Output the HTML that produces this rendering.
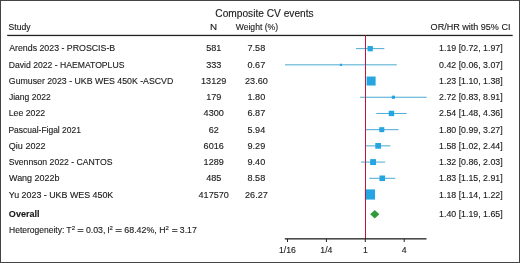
<!DOCTYPE html><html><head><meta charset="utf-8"><style>html,body{margin:0;padding:0;background:#fff;}svg{display:block;will-change:transform;}text{font-family:"Liberation Sans",sans-serif;fill:#1a1a1a;stroke:#1a1a1a;stroke-width:0.12px;}</style></head><body>
<svg width="520" height="263" viewBox="0 0 520 263">
<rect x="0" y="0" width="520" height="263" fill="#fff"/>
<text id="title" x="215.31" y="16.80" font-size="10.2" textLength="98.37" lengthAdjust="spacingAndGlyphs">Composite CV events</text>
<text id="h_study" x="8.58" y="29.60" font-size="8.7" textLength="21.98" lengthAdjust="spacingAndGlyphs">Study</text>
<text id="h_n" x="210.12" y="29.60" font-size="8.7" textLength="7.09" lengthAdjust="spacingAndGlyphs">N</text>
<text id="h_w" x="235.76" y="29.60" font-size="8.7" textLength="42.25" lengthAdjust="spacingAndGlyphs">Weight (%)</text>
<text id="h_ci" x="430.63" y="29.60" font-size="8.7" textLength="79.81" lengthAdjust="spacingAndGlyphs">OR/HR with 95% CI</text>
<rect x="7.2" y="34.8" width="505.5" height="1.3" fill="#222"/>
<rect x="356.08" y="48.12" width="28.24" height="1.0" fill="#4aaad2"/>
<rect x="367.53" y="45.97" width="5.30" height="5.30" fill="#25a5e2"/>
<rect x="285.00" y="64.33" width="111.77" height="1.0" fill="#4aaad2"/>
<rect x="339.86" y="63.73" width="2.20" height="2.20" fill="#25a5e2"/>
<rect x="367.97" y="80.53" width="6.36" height="1.0" fill="#4aaad2"/>
<rect x="366.61" y="76.53" width="9.00" height="9.00" fill="#25a5e2"/>
<rect x="360.07" y="96.74" width="66.60" height="1.0" fill="#4aaad2"/>
<rect x="391.78" y="95.64" width="3.20" height="3.20" fill="#25a5e2"/>
<rect x="376.30" y="112.95" width="30.32" height="1.0" fill="#4aaad2"/>
<rect x="388.76" y="110.75" width="5.40" height="5.40" fill="#25a5e2"/>
<rect x="365.02" y="129.16" width="33.53" height="1.0" fill="#4aaad2"/>
<rect x="379.29" y="127.16" width="5.00" height="5.00" fill="#25a5e2"/>
<rect x="365.86" y="145.36" width="24.47" height="1.0" fill="#4aaad2"/>
<rect x="375.29" y="143.01" width="5.70" height="5.70" fill="#25a5e2"/>
<rect x="361.07" y="161.57" width="24.10" height="1.0" fill="#4aaad2"/>
<rect x="370.14" y="159.12" width="5.90" height="5.90" fill="#25a5e2"/>
<rect x="369.22" y="177.78" width="26.05" height="1.0" fill="#4aaad2"/>
<rect x="379.46" y="175.48" width="5.60" height="5.60" fill="#25a5e2"/>
<rect x="368.98" y="193.98" width="1.90" height="1.0" fill="#4aaad2"/>
<rect x="364.84" y="189.38" width="10.20" height="10.20" fill="#25a5e2"/>
<rect x="365" y="35.5" width="1.0" height="203.5" fill="#bf1537"/>
<text id="name0" x="9.18" y="51.00" font-size="8.7" textLength="106.02" lengthAdjust="spacingAndGlyphs">Arends 2023 - PROSCIS-B</text>
<text id="n0" x="213.70" y="51.00" font-size="8.7" text-anchor="middle" textLength="15.15" lengthAdjust="spacingAndGlyphs">581</text>
<text id="w0" x="256.40" y="51.00" font-size="8.7" text-anchor="middle" textLength="17.68" lengthAdjust="spacingAndGlyphs">7.58</text>
<text id="ci0" x="470.90" y="51.00" font-size="8.7" text-anchor="middle" textLength="63.60" lengthAdjust="spacingAndGlyphs">1.19 [0.72, 1.97]</text>
<text id="name1" x="8.68" y="68.00" font-size="8.7" textLength="115.74" lengthAdjust="spacingAndGlyphs">David 2022 - HAEMATOPLUS</text>
<text id="n1" x="213.70" y="68.00" font-size="8.7" text-anchor="middle" textLength="15.15" lengthAdjust="spacingAndGlyphs">333</text>
<text id="w1" x="256.40" y="68.00" font-size="8.7" text-anchor="middle" textLength="17.68" lengthAdjust="spacingAndGlyphs">0.67</text>
<text id="ci1" x="470.90" y="68.00" font-size="8.7" text-anchor="middle" textLength="63.60" lengthAdjust="spacingAndGlyphs">0.42 [0.06, 3.07]</text>
<text id="name2" x="8.84" y="84.00" font-size="8.7" textLength="164.41" lengthAdjust="spacingAndGlyphs">Gumuser 2023 - UKB WES 450K -ASCVD</text>
<text id="n2" x="213.70" y="84.00" font-size="8.7" text-anchor="middle" textLength="25.26" lengthAdjust="spacingAndGlyphs">13129</text>
<text id="w2" x="256.40" y="84.00" font-size="8.7" text-anchor="middle" textLength="22.73" lengthAdjust="spacingAndGlyphs">23.60</text>
<text id="ci2" x="470.90" y="84.00" font-size="8.7" text-anchor="middle" textLength="63.60" lengthAdjust="spacingAndGlyphs">1.23 [1.10, 1.38]</text>
<text id="name3" x="8.92" y="100.00" font-size="8.7" textLength="41.83" lengthAdjust="spacingAndGlyphs">Jiang 2022</text>
<text id="n3" x="213.70" y="100.00" font-size="8.7" text-anchor="middle" textLength="15.15" lengthAdjust="spacingAndGlyphs">179</text>
<text id="w3" x="256.40" y="100.00" font-size="8.7" text-anchor="middle" textLength="17.68" lengthAdjust="spacingAndGlyphs">1.80</text>
<text id="ci3" x="470.90" y="100.00" font-size="8.7" text-anchor="middle" textLength="63.60" lengthAdjust="spacingAndGlyphs">2.72 [0.83, 8.91]</text>
<text id="name4" x="8.65" y="116.00" font-size="8.7" textLength="36.59" lengthAdjust="spacingAndGlyphs">Lee 2022</text>
<text id="n4" x="213.70" y="116.00" font-size="8.7" text-anchor="middle" textLength="20.20" lengthAdjust="spacingAndGlyphs">4300</text>
<text id="w4" x="256.40" y="116.00" font-size="8.7" text-anchor="middle" textLength="17.68" lengthAdjust="spacingAndGlyphs">6.87</text>
<text id="ci4" x="470.90" y="116.00" font-size="8.7" text-anchor="middle" textLength="63.60" lengthAdjust="spacingAndGlyphs">2.54 [1.48, 4.36]</text>
<text id="name5" x="8.45" y="133.00" font-size="8.7" textLength="72.51" lengthAdjust="spacingAndGlyphs">Pascual-Figal 2021</text>
<text id="n5" x="213.70" y="133.00" font-size="8.7" text-anchor="middle" textLength="10.11" lengthAdjust="spacingAndGlyphs">62</text>
<text id="w5" x="256.40" y="133.00" font-size="8.7" text-anchor="middle" textLength="17.68" lengthAdjust="spacingAndGlyphs">5.94</text>
<text id="ci5" x="470.90" y="133.00" font-size="8.7" text-anchor="middle" textLength="63.60" lengthAdjust="spacingAndGlyphs">1.80 [0.99, 3.27]</text>
<text id="name6" x="8.86" y="149.00" font-size="8.7" textLength="36.56" lengthAdjust="spacingAndGlyphs">Qiu 2022</text>
<text id="n6" x="213.70" y="149.00" font-size="8.7" text-anchor="middle" textLength="20.20" lengthAdjust="spacingAndGlyphs">6016</text>
<text id="w6" x="256.40" y="149.00" font-size="8.7" text-anchor="middle" textLength="17.68" lengthAdjust="spacingAndGlyphs">9.29</text>
<text id="ci6" x="470.90" y="149.00" font-size="8.7" text-anchor="middle" textLength="63.60" lengthAdjust="spacingAndGlyphs">1.58 [1.02, 2.44]</text>
<text id="name7" x="8.66" y="165.00" font-size="8.7" textLength="103.82" lengthAdjust="spacingAndGlyphs">Svennson 2022 - CANTOS</text>
<text id="n7" x="213.70" y="165.00" font-size="8.7" text-anchor="middle" textLength="20.20" lengthAdjust="spacingAndGlyphs">1289</text>
<text id="w7" x="256.40" y="165.00" font-size="8.7" text-anchor="middle" textLength="17.68" lengthAdjust="spacingAndGlyphs">9.40</text>
<text id="ci7" x="470.90" y="165.00" font-size="8.7" text-anchor="middle" textLength="63.60" lengthAdjust="spacingAndGlyphs">1.32 [0.86, 2.03]</text>
<text id="name8" x="9.04" y="181.00" font-size="8.7" textLength="50.42" lengthAdjust="spacingAndGlyphs">Wang 2022b</text>
<text id="n8" x="213.70" y="181.00" font-size="8.7" text-anchor="middle" textLength="15.15" lengthAdjust="spacingAndGlyphs">485</text>
<text id="w8" x="256.40" y="181.00" font-size="8.7" text-anchor="middle" textLength="17.68" lengthAdjust="spacingAndGlyphs">8.58</text>
<text id="ci8" x="470.90" y="181.00" font-size="8.7" text-anchor="middle" textLength="63.60" lengthAdjust="spacingAndGlyphs">1.83 [1.15, 2.91]</text>
<text id="name9" x="8.79" y="198.00" font-size="8.7" textLength="104.48" lengthAdjust="spacingAndGlyphs">Yu 2023 - UKB WES 450K</text>
<text id="n9" x="213.70" y="198.00" font-size="8.7" text-anchor="middle" textLength="30.30" lengthAdjust="spacingAndGlyphs">417570</text>
<text id="w9" x="256.40" y="198.00" font-size="8.7" text-anchor="middle" textLength="22.73" lengthAdjust="spacingAndGlyphs">26.27</text>
<text id="ci9" x="470.90" y="198.00" font-size="8.7" text-anchor="middle" textLength="63.60" lengthAdjust="spacingAndGlyphs">1.18 [1.14, 1.22]</text>
<text id="overall" x="8.85" y="216.70" font-size="8.7" textLength="30.75" lengthAdjust="spacingAndGlyphs" font-weight="bold">Overall</text>
<text id="ci_o" x="470.90" y="216.70" font-size="8.7" text-anchor="middle" textLength="63.60" lengthAdjust="spacingAndGlyphs">1.40 [1.19, 1.65]</text>
<polygon points="370.18,214.3 374.74,210.10000000000002 379.35,214.3 374.74,218.5" fill="#2f9a3a"/>
<text id="het0" x="9.04" y="233.10" font-size="8.7" textLength="55.31" lengthAdjust="spacingAndGlyphs">Heterogeneity:</text>
<text id="het1" x="66.20" y="233.10" font-size="8.7">T</text>
<text id="het2" x="71.70" y="230.10" font-size="6">2</text>
<text id="het3" x="77.23" y="233.10" font-size="8.7" textLength="6.51" lengthAdjust="spacingAndGlyphs">=</text>
<text id="het4" x="85.91" y="233.10" font-size="8.7" textLength="19.42" lengthAdjust="spacingAndGlyphs">0.03,</text>
<text id="het5" x="107.13" y="233.10" font-size="8.7">I</text>
<text id="het6" x="109.50" y="230.10" font-size="6">2</text>
<text id="het7" x="115.37" y="233.10" font-size="8.7" textLength="6.79" lengthAdjust="spacingAndGlyphs">=</text>
<text id="het8" x="124.25" y="233.10" font-size="8.7" textLength="32.59" lengthAdjust="spacingAndGlyphs">68.42%,</text>
<text id="het9" x="159.28" y="233.10" font-size="8.7">H</text>
<text id="het10" x="165.60" y="230.10" font-size="6">2</text>
<text id="het11" x="171.89" y="233.10" font-size="8.7" textLength="6.00" lengthAdjust="spacingAndGlyphs">=</text>
<text id="het12" x="179.84" y="233.10" font-size="8.7" textLength="16.93" lengthAdjust="spacingAndGlyphs">3.17</text>
<rect x="284.8" y="238.2" width="141.7" height="1.3" fill="#222"/>
<rect x="287.00" y="239" width="1" height="3" fill="#222"/>
<text id="ax0" x="287.50" y="253.10" font-size="8.7" text-anchor="middle">1/16</text>
<rect x="325.90" y="239" width="1" height="3" fill="#222"/>
<text id="ax1" x="326.40" y="253.10" font-size="8.7" text-anchor="middle">1/4</text>
<rect x="364.80" y="239" width="1" height="3" fill="#222"/>
<text id="ax2" x="365.30" y="253.10" font-size="8.7" text-anchor="middle">1</text>
<rect x="403.70" y="239" width="1" height="3" fill="#222"/>
<text id="ax3" x="404.20" y="253.10" font-size="8.7" text-anchor="middle">4</text>
<rect x="0.5" y="0.5" width="519" height="262" fill="none" stroke="#444" stroke-width="1"/>
</svg></body></html>
